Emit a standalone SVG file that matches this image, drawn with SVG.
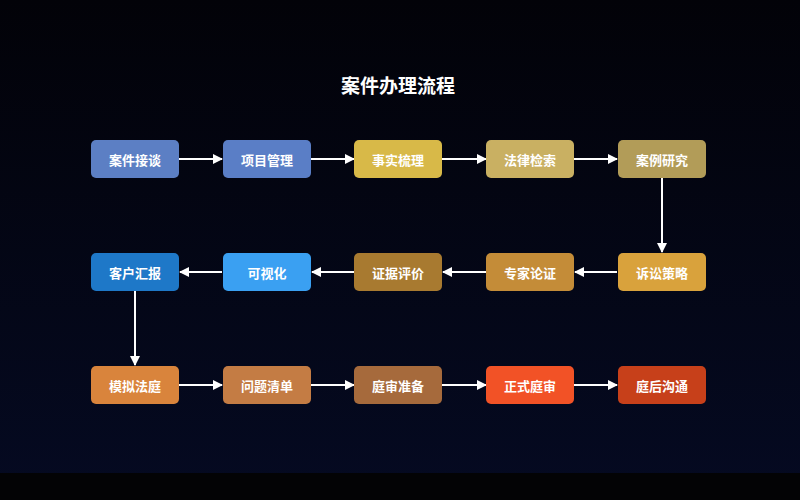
<svg xmlns="http://www.w3.org/2000/svg" width="800" height="500" viewBox="0 0 800 500">
<defs>
<linearGradient id="bg" x1="0" y1="0" x2="0" y2="1"><stop offset="0" stop-color="#020208"/><stop offset="1" stop-color="#050a22"/></linearGradient>
<marker id="ah" markerWidth="10" markerHeight="10" refX="9" refY="5" orient="auto" markerUnits="userSpaceOnUse"><path d="M0,0 L10,5 L0,10 Z" fill="#ffffff"/></marker>
<style>
.n rect{rx:5px;ry:5px}
.n text{font-family:"Noto Sans CJK SC",sans-serif;font-size:13px;font-weight:bold;fill:#fff;text-anchor:middle;dominant-baseline:central}
.c line{stroke:#fff;stroke-width:2;marker-end:url(#ah)}
</style>
</defs>
<rect width="800" height="500" fill="url(#bg)"/>
<rect y="473" width="800" height="27" fill="#030305"/>
<text x="398" y="84" font-family="Noto Sans CJK SC,sans-serif" font-size="19" font-weight="bold" fill="#fff" text-anchor="middle" dominant-baseline="central">案件办理流程</text>
<g class="c">
<line x1="179" y1="159" x2="222" y2="159"/>
<line x1="311" y1="159" x2="354" y2="159"/>
<line x1="442" y1="159" x2="486" y2="159"/>
<line x1="574" y1="159" x2="617" y2="159"/>
<line x1="662" y1="178" x2="662" y2="252"/>
<line x1="617" y1="272" x2="575" y2="272"/>
<line x1="486" y1="272" x2="443" y2="272"/>
<line x1="354" y1="272" x2="312" y2="272"/>
<line x1="222" y1="272" x2="180" y2="272"/>
<line x1="135" y1="291" x2="135" y2="365"/>
<line x1="179" y1="385" x2="222" y2="385"/>
<line x1="311" y1="385" x2="354" y2="385"/>
<line x1="442" y1="385" x2="486" y2="385"/>
<line x1="574" y1="385" x2="617" y2="385"/>
</g>
<g id="n1" class="n"><rect x="91" y="140" width="88" height="38" fill="#5c7fc4"/><text x="135" y="159">案件接谈</text></g>
<g id="n2" class="n"><rect x="223" y="140" width="88" height="38" fill="#5a7ec6"/><text x="267" y="159">项目管理</text></g>
<g id="n3" class="n"><rect x="354" y="140" width="88" height="38" fill="#d8b948"/><text x="398" y="159">事实梳理</text></g>
<g id="n4" class="n"><rect x="486" y="140" width="88" height="38" fill="#c9b062"/><text x="530" y="159">法律检索</text></g>
<g id="n5" class="n"><rect x="618" y="140" width="88" height="38" fill="#b29c58"/><text x="662" y="159">案例研究</text></g>
<g id="n6" class="n"><rect x="618" y="253" width="88" height="38" fill="#d9a23c"/><text x="662" y="272">诉讼策略</text></g>
<g id="n7" class="n"><rect x="486" y="253" width="88" height="38" fill="#c48c38"/><text x="530" y="272">专家论证</text></g>
<g id="n8" class="n"><rect x="354" y="253" width="88" height="38" fill="#a87a30"/><text x="398" y="272">证据评价</text></g>
<g id="n9" class="n"><rect x="223" y="253" width="88" height="38" fill="#3aa0f2"/><text x="267" y="272">可视化</text></g>
<g id="n10" class="n"><rect x="91" y="253" width="88" height="38" fill="#1e78c8"/><text x="135" y="272">客户汇报</text></g>
<g id="n11" class="n"><rect x="91" y="366" width="88" height="38" fill="#d9843c"/><text x="135" y="385">模拟法庭</text></g>
<g id="n12" class="n"><rect x="223" y="366" width="88" height="38" fill="#c47c44"/><text x="267" y="385">问题清单</text></g>
<g id="n13" class="n"><rect x="354" y="366" width="88" height="38" fill="#a66a3c"/><text x="398" y="385">庭审准备</text></g>
<g id="n14" class="n"><rect x="486" y="366" width="88" height="38" fill="#f25226"/><text x="530" y="385">正式庭审</text></g>
<g id="n15" class="n"><rect x="618" y="366" width="88" height="38" fill="#c7401a"/><text x="662" y="385">庭后沟通</text></g>
</svg>
